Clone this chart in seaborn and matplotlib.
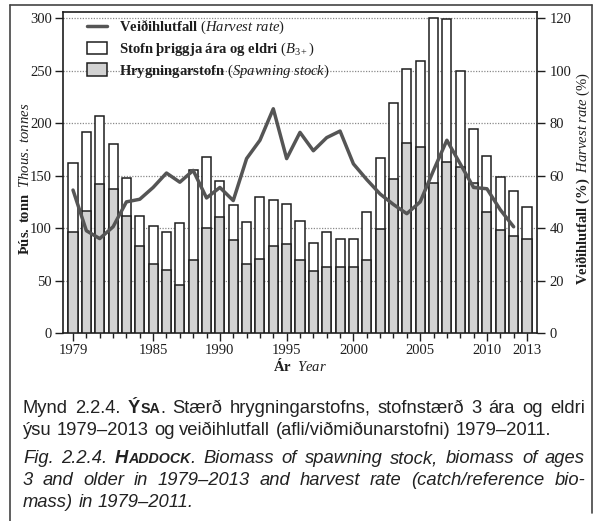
import matplotlib
matplotlib.use("Agg")
import numpy as np
import pandas as pd
import seaborn as sns
import matplotlib.pyplot as plt
from matplotlib.lines import Line2D
from matplotlib.patches import Rectangle

# ---------------- data ----------------
years = list(range(1979, 2014))
b3plus = [162, 192, 207, 180, 148, 112, 102, 96, 105, 155, 168, 145, 122, 106, 130,
          127, 123, 107, 86, 96, 90, 90, 115, 167, 219, 252, 259, 300, 299, 250,
          194, 169, 149, 135, 120]
ssb = [96, 116, 142, 137, 112, 83, 66, 60, 46, 70, 100, 111, 89, 66, 71,
       83, 85, 70, 59, 63, 63, 63, 70, 99, 147, 181, 177, 143, 163, 158,
       143, 115, 98, 92, 90]
hr_years = list(range(1979, 2013))
harvest = [54.5, 39, 36, 40.5, 50, 51, 55.5, 61, 57.5, 62, 51.5, 55.5, 50.5, 66.5,
           73.5, 85.5, 66.5, 76.5, 69.5, 74.5, 77, 64.5, 58.5, 53, 49, 45.5,
           50, 62, 73.5, 64.5, 55.5, 55, 47, 40.5]
major_ticks = [1979, 1985, 1990, 1995, 2000, 2005, 2010, 2013]

W, H = 595, 521
sns.set_theme(style="ticks")
plt.rcParams["font.family"] = ["Liberation Serif", "DejaVu Serif"]
plt.rcParams["mathtext.fontset"] = "custom"
plt.rcParams["mathtext.rm"] = "Liberation Serif"
plt.rcParams["mathtext.it"] = "Liberation Serif:italic"
plt.rcParams["mathtext.bf"] = "Liberation Serif:bold"

ink = "#1e1e1e"
fig = plt.figure(figsize=(W / 100, H / 100), dpi=100)
fig.patch.set_facecolor("white")
ax = fig.add_axes([63 / W, 1 - 333 / H, (537 - 63) / W, (333 - 12) / H])

df = pd.DataFrame({"year": years, "b3": b3plus, "ssb": ssb})
sns.barplot(data=df, x="year", y="b3", native_scale=True, color="white", saturation=1,
            edgecolor=ink, linewidth=1.1, width=0.68, ax=ax, zorder=2)
sns.barplot(data=df, x="year", y="ssb", native_scale=True, color="#d2d2d2", saturation=1,
            edgecolor=ink, linewidth=1.1, width=0.68, ax=ax, zorder=3)

ax.set_xlim(1978.25, 2013.75)
ax.set_ylim(0, 306)
ax.set_yticks([0, 50, 100, 150, 200, 250, 300])
ax.yaxis.grid(True, linestyle=(0, (1, 1.2)), color="#8a8a8a", lw=0.9)
ax.set_axisbelow(True)
ax.set_xticks(major_ticks)
ax.set_xticks(years, minor=True)
ax.tick_params(axis="x", which="major", direction="out", length=6, width=1, colors=ink,
               labelsize=10.5, pad=2)
ax.tick_params(axis="x", which="minor", direction="out", length=3.5, width=1, colors=ink)
ax.tick_params(axis="y", direction="out", length=6, width=1, colors=ink, labelsize=10.5, pad=2)
for s in ax.spines.values():
    s.set_visible(True)
    s.set_color(ink)
    s.set_linewidth(1.2)
ax.set_xlabel(r"$\mathbf{Ár}\ \ \mathit{Year}$", fontsize=10.5, color=ink, labelpad=0)
ax.set_ylabel(r"$\mathbf{Þús.\ tonn}\ \ \mathit{Thous.\ tonnes}$", fontsize=10.5,
              color=ink)
ax.yaxis.set_label_coords(-0.066, 0.48)

ax2 = ax.twinx()
sns.lineplot(x=hr_years, y=harvest, ax=ax2, color="#555555", lw=2.5, zorder=5)
ax2.set_ylim(0, 306 * 0.4)
ax2.set_yticks([0, 20, 40, 60, 80, 100, 120])
ax2.tick_params(axis="y", direction="out", length=6, width=1, colors=ink, labelsize=10.5, pad=3)
ax2.set_ylabel(r"$\mathbf{Veiðihlutfall\ (\%)}\ \ \mathit{Harvest\ rate\ (\%)}$",
               fontsize=10.5, color=ink, rotation=90)
ax2.yaxis.set_label_coords(1.078, 0.48)
for s in ax2.spines.values():
    s.set_visible(False)

handles = [Line2D([], [], color="#555555", lw=2.5),
           Rectangle((0, 0), 1, 1, facecolor="white", edgecolor=ink, lw=1.1),
           Rectangle((0, 0), 1, 1, facecolor="#d2d2d2", edgecolor=ink, lw=1.1)]
labels = [r"$\mathbf{Veiðihlutfall}\ \mathit{(Harvest\ rate)}$",
          r"$\mathbf{Stofn\ þriggja\ ára\ og\ eldri}\ \mathit{(B_{3+})}$",
          r"$\mathbf{Hrygningarstofn}\ \mathit{(Spawning\ stock)}$"]
leg = ax2.legend(handles, labels, loc="upper left", bbox_to_anchor=(24 / 474, 1 - 6 / 321),
                 frameon=False, fontsize=10.5, handlelength=1.4, handleheight=0.95,
                 labelspacing=0.3, handletextpad=0.8, borderaxespad=0, borderpad=0)
for t in leg.get_texts():
    t.set_color(ink)

# figure frame
fig.add_artist(Line2D([10 / W, 10 / W], [0, 1 - 5 / H], color="#444", lw=1.2))
fig.add_artist(Line2D([10 / W, 592 / W], [1 - 5 / H, 1 - 5 / H], color="#444", lw=1.2))
fig.add_artist(Line2D([592 / W, 592 / W], [1 - 5 / H, 1 - 513 / H], color="#444", lw=1.2))

# caption
renderer = fig.canvas.get_renderer()
CAP_FS = 13.2

def width_of(s, kw):
    t1 = fig.text(0, 0, s + "|", **kw)
    t2 = fig.text(0, 0, "|", **kw)
    w = t1.get_window_extent(renderer).width - t2.get_window_extent(renderer).width
    t1.remove(); t2.remove()
    return w

def style(kw):
    full = {"family": "Liberation Sans", "color": "#222", "fontsize": CAP_FS}
    full.update(kw)
    return full

def draw_line(x0, y, runs, x1=None):
    words = [[]]
    for s, kw in runs:
        parts = s.split(" ")
        for i, p in enumerate(parts):
            if i > 0:
                words.append([])
            if p:
                words[-1].append((p, style(kw)))
    words = [w for w in words if w]
    widths = [sum(width_of(p, k) for p, k in w) for w in words]
    space = width_of(" ", style(runs[-1][1]))
    if x1 is not None and len(words) > 1:
        space = (x1 - x0 - sum(widths)) / (len(words) - 1)
    x = x0
    for w, wd in zip(words, widths):
        xx = x
        for p, k in w:
            fig.text(xx / W, 1 - y / H, p, va="baseline", ha="left", **k)
            xx += width_of(p, k)
        x += wd + space

N = {}
B = {"weight": "bold"}
I = {"style": "italic"}
BI = {"weight": "bold", "style": "italic"}
SC = CAP_FS * 0.78
draw_line(23, 413, [("Mynd 2.2.4. ", N), ("Ý", B), ("SA", dict(B, fontsize=SC)),
                    (". Stærð hrygningarstofns, stofnstærð 3 ára og eldri", N)], x1=585)
draw_line(23, 435, [("ýsu 1979–2013 og veiðihlutfall (afli/viðmiðunarstofni) 1979–2011.", N)])
draw_line(23, 463, [("Fig. 2.2.4. ", I), ("H", BI), ("ADDOCK", dict(BI, fontsize=SC)),
                    (". Biomass of spawning stock, biomass of ages", I)], x1=585)
draw_line(23, 485, [("3 and older in 1979–2013 and harvest rate (catch/reference bio-", I)],
          x1=585)
draw_line(23, 507, [("mass) in 1979–2011.", I)])

fig.savefig("out.png", dpi=100)
